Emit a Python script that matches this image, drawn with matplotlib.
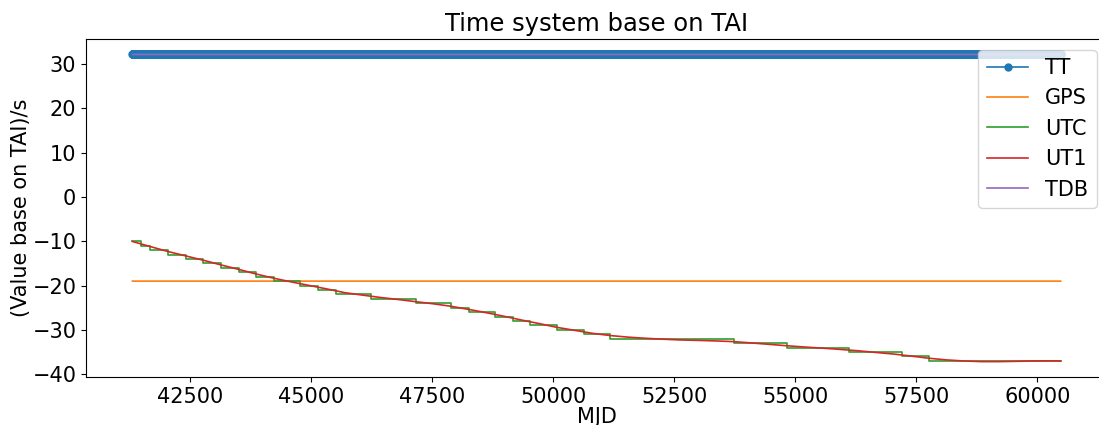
import numpy as np
from matplotlib import pyplot as plt

# MJD span of the daily series
mjd_start = 41317
mjd_end = 60480

# TAI-based offsets (s)
tt_offset = 32.184
gps_offset = -19.0

# leap seconds: MJD where UTC-TAI changes, and new value
leap_mjd = [41317, 41499, 41683, 42048, 42413, 42778, 43144, 43509, 43874, 44239,
            44786, 45151, 45516, 46247, 47161, 47892, 48257, 48804, 49169, 49534,
            50083, 50630, 51179, 53736, 54832, 56109, 57204, 57754]
leap_utc = [-10, -11, -12, -13, -14, -15, -16, -17, -18, -19,
            -20, -21, -22, -23, -24, -25, -26, -27, -28, -29,
            -30, -31, -32, -33, -34, -35, -36, -37]

# UT1-TAI at January 1st of each year
ut1_mjd = [41317, 41683, 42048, 42413, 42778, 43144, 43509, 43874, 44239, 44605,
           44970, 45335, 45700, 46066, 46431, 46796, 47161, 47527, 47892, 48257,
           48622, 48988, 49353, 49718, 50083, 50449, 50814, 51179, 51544, 51910,
           52275, 52640, 53005, 53371, 53736, 54101, 54466, 54832, 55197, 55562,
           55927, 56293, 56658, 57023, 57388, 57754, 58119, 58484, 58849, 59215,
           59580, 59945, 60310, 60480]
ut1_tai = [-10.05, -11.19, -12.31, -13.30, -14.28, -15.34, -16.35, -17.41, -18.36, -19.20,
           -19.99, -20.78, -21.61, -22.16, -22.69, -23.14, -23.64, -24.12, -24.68, -25.39,
           -26.13, -26.94, -27.80, -28.60, -29.45, -30.12, -30.79, -31.29, -31.65, -31.91,
           -32.12, -32.29, -32.39, -32.51, -32.67, -32.97, -33.28, -33.60, -33.89, -34.14,
           -34.42, -34.73, -35.10, -35.46, -35.92, -36.41, -36.79, -37.04, -37.18, -37.18,
           -37.11, -37.02, -37.00, -37.02]

mjd = np.arange(mjd_start, mjd_end + 1)
tt = np.full(mjd.shape, tt_offset)
gps = np.full(mjd.shape, gps_offset)
tdb = np.full(mjd.shape, tt_offset)
utc_x = leap_mjd + [mjd_end]
utc_y = leap_utc + [leap_utc[-1]]

plt.rcParams['font.size'] = 15
plt.rcParams['lines.linewidth'] = 1.2
fig = plt.figure(figsize=(10.99, 4.25), dpi=100)
ax = fig.add_axes([0.0783, 0.113, 0.929, 0.795])

ax.plot(mjd, tt, marker='o', markersize=5, label="TT")
ax.plot(mjd, gps, label="GPS")
ax.step(utc_x, utc_y, where='post', label="UTC")
ax.plot(ut1_mjd, ut1_tai, label="UT1")
ax.plot(mjd, tdb, label="TDB")

ax.set_xlabel('MJD', labelpad=0)
ax.set_ylabel('(Value base on TAI)/s', labelpad=1)
ax.set_title('Time system base on TAI', fontsize=17.5)
ax.legend(loc='upper right')

fig.savefig('out.png', dpi=100)
